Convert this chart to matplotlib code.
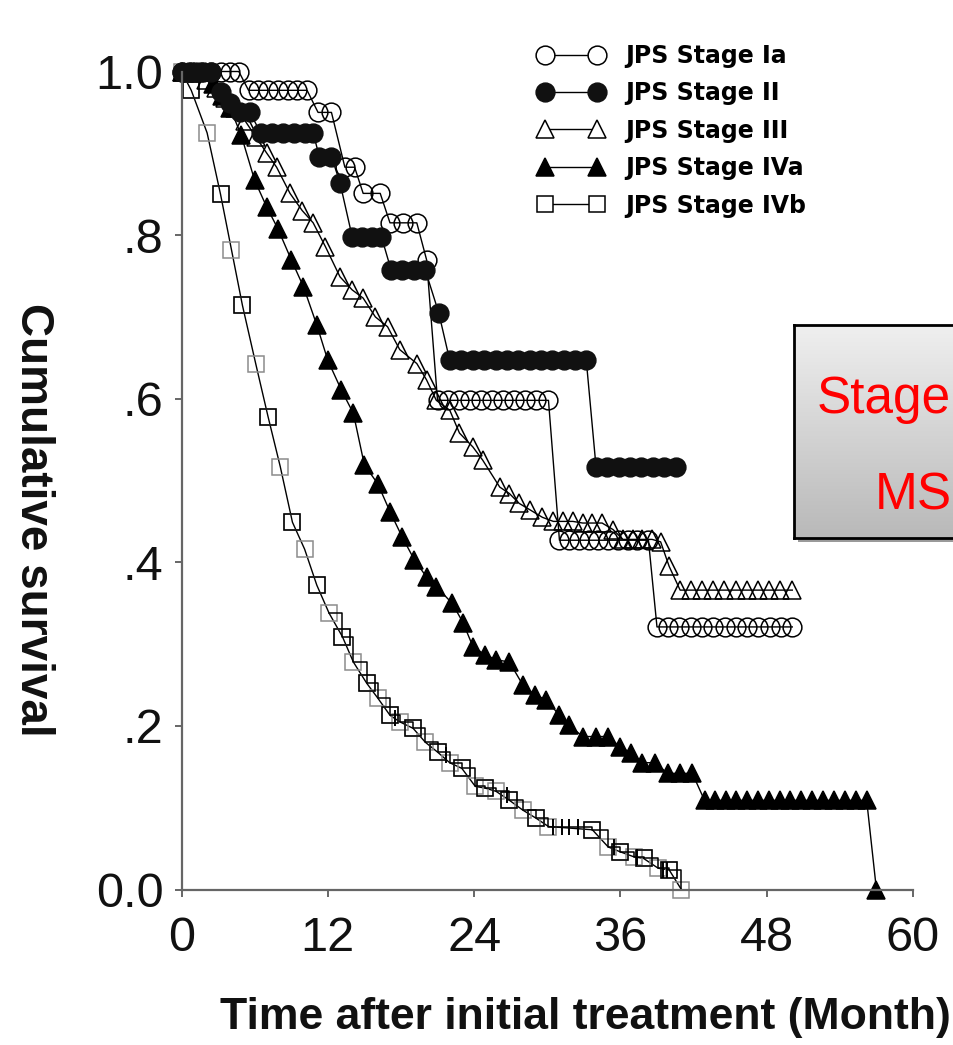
import matplotlib
matplotlib.use("Agg")
import matplotlib.pyplot as plt
from matplotlib import font_manager
from matplotlib.lines import Line2D
from matplotlib.patches import Rectangle
from matplotlib.colors import LinearSegmentedColormap
import numpy as np

# Kaplan-Meier points (months, cumulative survival)
ia_t = [0, 0.8, 1.6, 2.4, 3.2, 4.0, 4.7,
        5.5, 6.3, 7.1, 7.9, 8.7, 9.5, 10.3,
        11.2, 12.3, 13.4, 14.2, 14.9, 16.3, 17.1, 18.2, 19.3, 20.1,
        21.0, 21.9, 22.8, 23.7, 24.6, 25.5, 26.4, 27.3, 28.2, 29.1, 30.1,
        31.0, 31.8, 32.6, 33.4, 34.2, 35.0, 35.8, 36.6, 37.4, 38.3,
        39.0, 39.9, 40.8, 41.8, 42.7, 43.6, 44.6, 45.5, 46.4, 47.3, 48.3, 49.2, 50.1]
ia_s = ([1.0] * 7 + [0.977] * 7 + [0.95] * 2 + [0.883] * 2 + [0.851] * 2
        + [0.815] * 3 + [0.77] + [0.598] * 11 + [0.427] * 10 + [0.321] * 13)

ii_t = [0, 0.6, 1.2, 1.8, 2.4, 3.2, 4.0, 4.8, 5.6,
        6.5, 7.4, 8.3, 9.2, 10.1, 10.8, 11.3, 12.3, 13.0,
        14.0, 14.8, 15.6, 16.4, 17.2, 18.1, 19.1, 20.0, 21.1,
        22.0, 22.9, 23.9, 24.8, 25.8, 26.7, 27.6, 28.6, 29.5, 30.4, 31.4, 32.3, 33.2,
        34.0, 34.9, 35.9, 36.8, 37.7, 38.7, 39.6, 40.6]
ii_s = ([1.0] * 5 + [0.975, 0.962] + [0.95] * 2 + [0.925] * 6 + [0.896] * 2
        + [0.864] + [0.798] * 4 + [0.757] * 4 + [0.705] + [0.647] * 13 + [0.517] * 8)

iii_t = [0, 1.0, 2.0, 2.8, 3.6, 4.4, 5.2, 6.1, 7.0, 7.8,
         8.9, 9.9, 10.8, 11.8, 13.0, 14.0, 14.9, 15.9, 16.9, 17.9,
         19.3, 20.1, 20.9, 22.0, 22.8, 23.9, 24.7, 26.1, 26.9, 27.7,
         28.6, 29.6, 30.5, 31.3, 32.1, 32.9, 33.7, 34.5, 35.4, 36.2,
         37.0, 37.8, 38.6, 39.3, 40.0,
         40.9, 41.8, 42.7, 43.6, 44.5, 45.5, 46.4, 47.3, 48.2, 49.1, 50.1]
iii_s = [1.0, 1.0, 0.99, 0.98, 0.968, 0.955, 0.94, 0.92, 0.90, 0.883,
         0.851, 0.83, 0.815, 0.786, 0.749, 0.733, 0.723, 0.70, 0.688, 0.66,
         0.643, 0.623, 0.598, 0.586, 0.558, 0.541, 0.525, 0.492, 0.484, 0.472,
         0.464, 0.455, 0.45, 0.45, 0.45, 0.448, 0.448, 0.448, 0.44, 0.428,
         0.428, 0.428, 0.428, 0.425, 0.395] + [0.366] * 11

iva_t = [0, 1.0, 2.0, 2.6, 3.3, 4.0, 4.9, 6.0, 7.0, 7.9,
         9.0, 10.0, 11.1, 12.0, 13.1, 14.1, 15.0, 16.1, 17.1, 18.1,
         19.1, 20.1, 20.9, 22.2, 23.1, 23.9, 24.9, 25.8, 26.9, 28.0,
         29.0, 29.9, 31.0, 31.8, 32.9, 34.0, 35.0, 36.0, 36.9, 37.8,
         38.8, 39.9, 40.9, 41.9,
         42.9, 43.8, 44.7, 45.5, 46.4, 47.3, 48.2, 49.1, 49.9, 50.8,
         51.7, 52.6, 53.5, 54.4, 55.3, 56.2, 57.0]
iva_s = [1.0, 1.0, 1.0, 0.985, 0.97, 0.955, 0.922, 0.867, 0.834, 0.808,
         0.77, 0.737, 0.69, 0.647, 0.611, 0.582, 0.519, 0.496, 0.462, 0.431,
         0.403, 0.382, 0.37, 0.35, 0.326, 0.297, 0.287, 0.281, 0.278, 0.25,
         0.238, 0.232, 0.213, 0.201, 0.187, 0.187, 0.187, 0.174, 0.167, 0.155,
         0.155, 0.142, 0.142, 0.142] + [0.109] * 16 + [0.0]

ivb_t = [0, 0.8, 2.1, 3.2, 4.1, 5.0, 6.1, 7.1, 8.1, 9.1,
         10.1, 11.1, 12.1, 13.2, 14.1, 15.2, 16.1, 17.1, 17.9, 19.0,
         20.0, 21.0, 22.0, 23.0, 24.1, 24.9, 25.8, 26.9, 28.0, 29.1,
         30.1, 33.7, 35.0, 36.0, 37.1, 37.9, 39.1, 40.0, 41.0]
ivb_s = [1.0, 0.977, 0.925, 0.85, 0.782, 0.714, 0.642, 0.578, 0.517, 0.449,
         0.416, 0.372, 0.338, 0.309, 0.278, 0.252, 0.234, 0.213, 0.205, 0.197,
         0.18, 0.168, 0.155, 0.148, 0.126, 0.124, 0.12, 0.109, 0.097, 0.087,
         0.077, 0.073, 0.052, 0.046, 0.04, 0.038, 0.026, 0.024, 0.0]
# censor ticks on the IVb curve
ivb_cens_t = [17.5, 21.7, 26.7, 30.5, 31.2, 31.8, 32.5, 35.5, 37.4, 39.5, 39.8]
ivb_cens_s = [0.21, 0.165, 0.115, 0.077, 0.077, 0.077, 0.077, 0.052, 0.04, 0.024, 0.024]

labels = ["JPS Stage Ia", "JPS Stage II", "JPS Stage III", "JPS Stage IVa", "JPS Stage IVb"]
x_ticks = [0, 12, 24, 36, 48, 60]
y_ticks = [0.0, 0.2, 0.4, 0.6, 0.8, 1.0]
y_ticklabels = ["0.0", ".2", ".4", ".6", ".8", "1.0"]

names = {f.name for f in font_manager.fontManager.ttflist}
if "Liberation Sans Narrow" in names:
    tick_font, tick_size = "Liberation Sans Narrow", 40
else:
    tick_font, tick_size = "Liberation Sans", 35

W, H = 954, 1045
fig = plt.figure(figsize=(W / 100, H / 100), dpi=100)
ax = fig.add_axes([181.5 / W, 1 - 889.5 / H, (913 - 181.5) / W, 818 / H])

styles = [
    dict(marker="o", markersize=13.5, mfc="none", mec="black"),
    dict(marker="o", markersize=13.5, mfc="#111111", mec="#111111"),
    dict(marker="^", markersize=12.5, mfc="none", mec="black"),
    dict(marker="^", markersize=12.5, mfc="black", mec="black"),
    dict(marker="s", markersize=11.5, mfc="none", mec="black"),
]

common = dict(color="black", lw=1.0, mew=1.1, clip_on=False)

ax.plot(ivb_t, ivb_s, **{**styles[4], "mec": "#8c8c8c"}, **common)
ax.step(ivb_t[12:], ivb_s[12:], where="post", color="black", lw=1.1)
ax.plot(ivb_t[1::2], ivb_s[1::2], ls="none", **styles[4], mew=1.1)
ax.plot(ivb_cens_t, ivb_cens_s, ls="none", marker="|", markersize=12, mew=1.4, color="black")
ax.plot(iva_t, iva_s, **styles[3], **common)
ax.plot(iii_t, iii_s, **styles[2], **common)
ax.plot(ia_t, ia_s, **styles[0], **common)
ax.plot(ii_t, ii_s, **styles[1], **common)

ax.set_xlim(0, 60)
ax.set_ylim(0, 1.0)
ax.set_xticks(x_ticks)
ax.set_yticks(y_ticks)
ax.set_yticklabels(y_ticklabels)
for s in ["top", "right"]:
    ax.spines[s].set_visible(False)
for s in ["left", "bottom"]:
    ax.spines[s].set_color("#666666")
    ax.spines[s].set_linewidth(1.6)
ax.tick_params(axis="both", direction="out", length=5, width=1.4, color="#666666",
               labelsize=tick_size, labelcolor="#111111")
ax.tick_params(axis="y", pad=8)
ax.tick_params(axis="x", pad=14)
for lab in ax.get_xticklabels() + ax.get_yticklabels():
    lab.set_fontfamily([tick_font, "Liberation Sans"])

fig.text(33 / W, 1 - 520 / H, "Cumulative survival", rotation=270, ha="center", va="center",
         fontsize=33, fontweight="bold", family="Liberation Sans", color="#111111")
fig.text(585 / W, 1 - 1018 / H, "Time after initial treatment (Month)", ha="center", va="center",
         fontsize=32, fontweight="bold", family="Liberation Sans", color="#111111")

handles = [Line2D([], [], color="black", lw=1.0, mew=1.1, **st) for st in styles]
handles[0].set_markerfacecolor("white")
handles[2].set_markerfacecolor("white")
handles[4].set_markerfacecolor("white")
fig.legend(handles, labels, loc="upper left", bbox_to_anchor=(526 / W, 1 - 32 / H),
           bbox_transform=fig.transFigure, frameon=False, numpoints=2, borderpad=0,
           handlelength=2.8, handletextpad=0.9, labelspacing=0.57,
           prop=dict(family="DejaVu Sans", weight="bold", size=17))

# grey call-out box, running into the right edge of the figure
shadow = Rectangle((798 / W, 1 - 542 / H), 320 / W, 213 / H, transform=fig.transFigure,
                   facecolor="#9a9a9a", edgecolor="none", zorder=1.5)
fig.add_artist(shadow)
box = fig.add_axes([794 / W, 1 - 538 / H, 320 / W, 213 / H], zorder=2)
grad = LinearSegmentedColormap.from_list("g", ["#efefef", "#b9b9b9"])
box.imshow(np.linspace(0, 1, 100).reshape(-1, 1), cmap=grad, aspect="auto", extent=[0, 1, 0, 1])
box.set_xticks([])
box.set_yticks([])
for sp in box.spines.values():
    sp.set_linewidth(2)
    sp.set_color("black")
fig.text(817 / W, 1 - 413 / H, "Stage", color="red", fontsize=37, family="Liberation Sans",
         va="baseline", ha="left", zorder=5)
fig.text(875 / W, 1 - 510 / H, "MS", color="red", fontsize=37, family="Liberation Sans",
         va="baseline", ha="left", zorder=5)

fig.savefig("out.png", dpi=100)
